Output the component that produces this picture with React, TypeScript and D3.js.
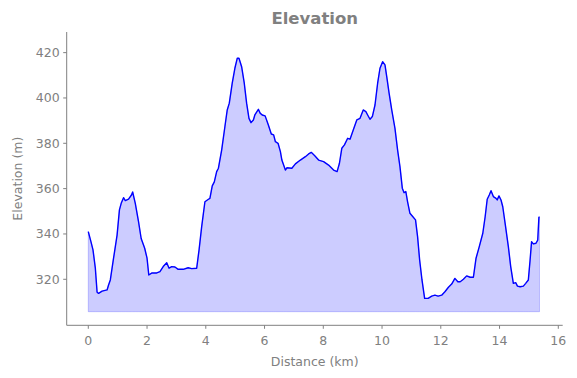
import React from "react";
import * as d3 from "d3";

const distance = [
  0, 0.09, 0.16, 0.24, 0.30, 0.35, 0.47, 0.64, 0.69, 0.75,
  0.86, 0.98, 1.06, 1.12, 1.20, 1.26, 1.37, 1.47, 1.51, 1.60,
  1.71, 1.80, 1.92, 2.0, 2.06, 2.17, 2.33, 2.44, 2.55, 2.67,
  2.75, 2.84, 2.95, 3.06, 3.23, 3.40, 3.52, 3.69, 3.77, 3.86,
  3.97, 4.09, 4.14, 4.22, 4.29, 4.37, 4.43, 4.54, 4.65, 4.73,
  4.80, 4.90, 4.99, 5.07, 5.13, 5.22, 5.31, 5.39, 5.47, 5.54,
  5.62, 5.67, 5.79, 5.85, 5.92, 6.02, 6.13, 6.23, 6.31, 6.37,
  6.46, 6.54, 6.59, 6.65, 6.71, 6.76, 6.93, 7.05, 7.22, 7.39,
  7.50, 7.59, 7.71, 7.84, 8.01, 8.18, 8.35, 8.47, 8.55, 8.63,
  8.72, 8.83, 8.91, 9.02, 9.14, 9.25, 9.36, 9.45, 9.51, 9.59,
  9.67, 9.76, 9.85, 9.93, 10.02, 10.10, 10.16, 10.24, 10.33, 10.44,
  10.53, 10.61, 10.69, 10.75, 10.81, 10.87, 10.95, 11.05, 11.14, 11.21,
  11.28, 11.36, 11.45, 11.57, 11.69, 11.80, 11.91, 12.03, 12.14, 12.26,
  12.37, 12.48, 12.58, 12.66, 12.77, 12.88, 13.0, 13.11, 13.2, 13.31,
  13.43, 13.51, 13.58, 13.65, 13.71, 13.79, 13.88, 13.92, 13.98, 14.05,
  14.11, 14.19, 14.30, 14.38, 14.47, 14.55, 14.61, 14.70, 14.81, 14.89,
  14.98, 15.04, 15.09, 15.15, 15.24, 15.30, 15.34, 15.36,
];

const elevation = [
  341, 336.6, 333, 324.9, 314.3, 313.8, 314.8, 315.3, 317.5, 319.7,
  329.3, 339.5, 350.6, 353.5, 356, 354.7, 355.4, 357.2, 358.5, 353.5,
  345.4, 338, 333.7, 329.3, 321.9, 322.8, 322.8, 323.4, 325.6, 327.3,
  324.9, 325.6, 325.4, 324.4, 324.4, 325.1, 324.7, 324.9, 332.9, 343.2,
  354.2, 355.3, 355.7, 361.2, 363, 367.5, 369, 377, 387.3, 394.7,
  397.7, 406.5, 413.1, 417.5, 417.5, 413.8, 406.5, 397.7, 391, 389.1,
  390.3, 392.5, 395, 393.3, 392.5, 392.1, 388.1, 384.1, 383.7, 380.7,
  380, 376.3, 372.6, 370.4, 368.2, 369.2, 369, 370.9, 372.6, 374.1,
  375.3, 376, 374.5, 372.6, 371.9, 370.4, 368.2, 367.5, 371.2, 377.8,
  379.3, 382.2, 381.8, 385.9, 390.3, 391, 394.7, 394, 392.5, 390.6,
  391.8, 396.9, 406.5, 413.1, 416, 414.6, 409.4, 402.1, 394.7, 386.6,
  377, 369.7, 360.2, 358.2, 358.7, 354.2, 349.1, 347.6, 346.2, 338.8,
  328.5, 319.7, 311.6, 311.6, 312.6, 313, 312.6, 313, 314.5, 316.5,
  317.9, 320.4, 318.9, 318.9, 320, 321.5, 320.9, 320.9, 329.3, 334.4,
  340.3, 347.6, 355.3, 357.2, 359.1, 356.5, 355.7, 355, 356.8, 355,
  352, 344.7, 334.4, 325.6, 318.2, 318.5, 317, 316.7, 317, 318.2,
  319.7, 328.5, 336.6, 335.6, 335.9, 337.3, 347.4, 347.6,
];

const xTicks = [0, 2, 4, 6, 8, 10, 12, 14, 16];
const yTicks = [320, 340, 360, 380, 400, 420];
const fillBase = 305.7;

const W = 577;
const H = 378;
const left = 66.7;
const right = 562.7;
const top = 32;
const bottom = 325.3;
const gray = "#808080";
const font = "DejaVu Sans, sans-serif";

export default function App() {
  const x = d3.scaleLinear().domain([-0.735, 16.15]).range([left, right]);
  const y = d3.scaleLinear().domain([299.7, 429.1]).range([bottom, top]);
  const pts: [number, number][] = distance.map((d, i) => [d, elevation[i]]);
  const line = d3
    .line<[number, number]>()
    .x((d) => x(d[0]))
    .y((d) => y(d[1]));
  const area = d3
    .area<[number, number]>()
    .x((d) => x(d[0]))
    .y0(() => y(fillBase))
    .y1((d) => y(d[1]));

  return (
    <svg width={W} height={H} style={{ display: "block", position: "absolute", left: 0, top: 0 }}>
      <rect width={W} height={H} fill="#ffffff" />
      <path d={area(pts) || ""} fill="#0000ff" fillOpacity={0.2} stroke="#0000ff" strokeOpacity={0.2} strokeWidth={1} />
      <path d={line(pts) || ""} fill="none" stroke="#0000ff" strokeWidth={1.4} strokeLinejoin="round" />
      <line x1={left} x2={left} y1={top} y2={bottom} stroke={gray} strokeWidth={1} />
      <line x1={left} x2={right} y1={bottom} y2={bottom} stroke={gray} strokeWidth={1} />
      {xTicks.map((t) => (
        <g key={"x" + t}>
          <line x1={x(t)} x2={x(t)} y1={bottom} y2={bottom + 3.5} stroke={gray} strokeWidth={1} />
          <text x={x(t)} y={bottom + 20} textAnchor="middle" fontFamily={font} fontSize={12.5} fill={gray}>
            {t}
          </text>
        </g>
      ))}
      {yTicks.map((t) => (
        <g key={"y" + t}>
          <line x1={left - 3.5} x2={left} y1={y(t)} y2={y(t)} stroke={gray} strokeWidth={1} />
          <text x={left - 7} y={y(t) + 4.5} textAnchor="end" fontFamily={font} fontSize={12.5} fill={gray}>
            {t}
          </text>
        </g>
      ))}
      <text x={(left + right) / 2} y={366} textAnchor="middle" fontFamily={font} fontSize={12.5} fill={gray}>
        Distance (km)
      </text>
      <text
        transform={`translate(21.5, ${(top + bottom) / 2}) rotate(-90)`}
        textAnchor="middle"
        fontFamily={font}
        fontSize={12.5}
        fill={gray}
      >
        Elevation (m)
      </text>
      <text x={(left + right) / 2} y={24} textAnchor="middle" fontFamily={font} fontSize={16.5} fontWeight="bold" fill={gray}>
        Elevation
      </text>
    </svg>
  );
}
